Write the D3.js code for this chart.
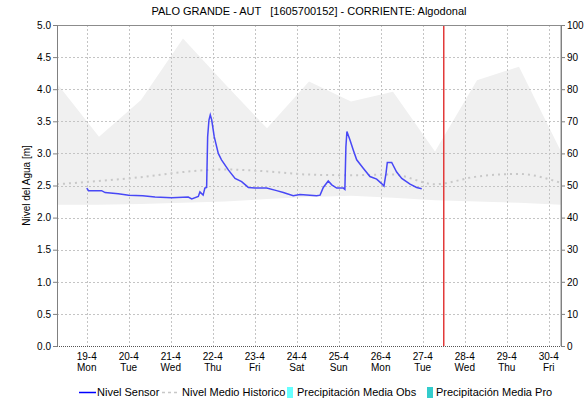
<!DOCTYPE html>
<html>
<head>
<meta charset="utf-8">
<script src="https://cdn.jsdelivr.net/npm/d3@7"></script>
<style>
  body { margin: 0; background: #fff; }
  text { font-family: "Liberation Sans", Arial, sans-serif; fill: #000; }
</style>
</head>
<body>
<div id="chart"></div>
<script>
// sensor readings (time, level in m)
var sensorTime = ["2021-04-19 00:00","2021-04-19 01:00","2021-04-19 08:30","2021-04-19 10:30","2021-04-19 18:00",
  "2021-04-20 00:00","2021-04-20 08:00","2021-04-20 15:00","2021-04-21 00:30","2021-04-21 10:00","2021-04-21 12:00",
  "2021-04-21 15:45","2021-04-21 16:40","2021-04-21 18:30","2021-04-21 19:30","2021-04-21 20:30","2021-04-21 21:05",
  "2021-04-21 21:50","2021-04-21 22:35","2021-04-21 23:25","2021-04-22 00:50","2021-04-22 03:10","2021-04-22 05:00",
  "2021-04-22 09:00","2021-04-22 12:45","2021-04-22 16:30","2021-04-22 20:20","2021-04-23 00:10","2021-04-23 06:50",
  "2021-04-23 12:30","2021-04-23 16:20","2021-04-23 22:00","2021-04-24 01:50","2021-04-24 11:20","2021-04-24 13:20",
  "2021-04-24 15:10","2021-04-24 18:00","2021-04-24 20:00","2021-04-24 22:50","2021-04-25 02:40","2021-04-25 03:30",
  "2021-04-25 04:05","2021-04-25 04:40","2021-04-25 06:25","2021-04-25 08:20","2021-04-25 10:15","2021-04-25 14:00",
  "2021-04-25 17:50","2021-04-25 21:40","2021-04-26 00:30","2021-04-26 01:50","2021-04-26 03:00","2021-04-26 03:45",
  "2021-04-26 06:15","2021-04-26 09:05","2021-04-26 12:00","2021-04-26 16:45","2021-04-26 20:30","2021-04-26 23:25"];
var sensorLevel = [2.46,2.42,2.42,2.39,2.37,
  2.35,2.34,2.32,2.31,2.32,2.29,
  2.33,2.40,2.35,2.46,2.47,3.26,
  3.52,3.60,3.52,3.26,3.00,2.90,
  2.74,2.61,2.56,2.47,2.46,2.46,
  2.42,2.39,2.34,2.36,2.34,2.35,
  2.47,2.57,2.51,2.46,2.46,2.44,
  3.10,3.34,3.21,3.05,2.90,2.77,
  2.64,2.60,2.53,2.49,2.69,2.86,
  2.86,2.71,2.61,2.52,2.47,2.45];

// historical daily values at 07:00
var histTime = ["2021-04-18 07:00","2021-04-19 07:00","2021-04-20 07:00","2021-04-21 07:00","2021-04-22 07:00",
  "2021-04-23 07:00","2021-04-24 07:00","2021-04-25 07:00","2021-04-26 07:00","2021-04-27 07:00",
  "2021-04-28 07:00","2021-04-29 07:00","2021-04-30 07:00"];
var histMax  = [4.09,3.26,3.83,4.79,4.08,3.39,4.12,3.81,3.96,3.03,4.14,4.35,3.03];
var histMin  = [2.20,2.20,2.21,2.23,2.25,2.29,2.32,2.34,2.31,2.27,2.25,2.23,2.20];
var histMean = [2.52,2.57,2.63,2.71,2.75,2.72,2.67,2.66,2.67,2.52,2.64,2.68,2.54];

// precipitation (mm) - none recorded in the period
var precipObs = [];
var precipPro = [];

var nowTime = "2021-04-27 11:30";
var dayNames = ["Sun","Mon","Tue","Wed","Thu","Fri","Sat"];

var W = 584, H = 401;
var margin = {top: 25, right: 23, bottom: 55, left: 57},
    width = W - margin.left - margin.right,
    height = H - margin.top - margin.bottom;

var parse = d3.timeParse("%Y-%m-%d %H:%M");

var svg = d3.select("#chart").append("svg")
    .attr("width", W).attr("height", H);

var g = svg.append("g")
    .attr("transform", "translate(" + margin.left + "," + margin.top + ")");

var x = d3.scaleTime()
  .domain([parse("2021-04-18 07:00"), parse("2021-04-30 07:00")])
  .range([0, width]);
var y = d3.scaleLinear().domain([0, 5]).range([height, 0]);
var y2 = d3.scaleLinear().domain([0, 100]).range([height, 0]);

var hist = histTime.map(function(t, i) {
  return {t: parse(t), max: histMax[i], min: histMin[i], mean: histMean[i]};
});
var sensor = sensorTime.map(function(t, i) { return {t: parse(t), v: sensorLevel[i]}; });

// band of historical range
g.append("path")
  .datum(hist)
  .attr("fill", "#f0f0f0")
  .attr("d", d3.area()
    .x(function(d) { return x(d.t); })
    .y0(function(d) { return y(d.min); })
    .y1(function(d) { return y(d.max); }));

// grid
var dayTicks = d3.timeDay.range(parse("2021-04-19 00:00"), parse("2021-04-30 12:00"));
g.append("g").selectAll("line").data(dayTicks).enter().append("line")
  .attr("x1", function(d) { return Math.round(x(d)) + 0.5; })
  .attr("x2", function(d) { return Math.round(x(d)) + 0.5; })
  .attr("y1", 0).attr("y2", height)
  .attr("stroke", "#c4c4c4").attr("stroke-dasharray", "2,2");
g.append("g").selectAll("line").data(d3.range(0.5, 5, 0.5)).enter().append("line")
  .attr("x1", 0).attr("x2", width)
  .attr("y1", function(d) { return Math.round(y(d)) + 0.5; })
  .attr("y2", function(d) { return Math.round(y(d)) + 0.5; })
  .attr("stroke", "#c4c4c4").attr("stroke-dasharray", "2,2");

// precipitation bars (right axis)
g.selectAll(".pobs").data(precipObs).enter().append("rect")
  .attr("fill", "#66ffff");
g.selectAll(".ppro").data(precipPro).enter().append("rect")
  .attr("fill", "#33cccc");

// historical mean
g.append("path")
  .datum(hist)
  .attr("fill", "none")
  .attr("stroke", "#c8c8c8")
  .attr("stroke-width", 2)
  .attr("stroke-dasharray", "2,4")
  .attr("d", d3.line().curve(d3.curveMonotoneX)
    .x(function(d) { return x(d.t); })
    .y(function(d) { return y(d.mean); }));

// sensor line
g.append("path")
  .datum(sensor)
  .attr("fill", "none")
  .attr("stroke", "#4848f6")
  .attr("stroke-width", 1.5)
  .attr("d", d3.line()
    .x(function(d) { return x(d.t); })
    .y(function(d) { return y(d.v); }));

// now line
var xNow = Math.round(x(parse(nowTime)));
g.append("rect")
  .attr("x", xNow).attr("y", 0)
  .attr("width", 1.5).attr("height", height)
  .style("fill", "#e23a3a");

// frame
g.append("line").attr("x1", 0).attr("x2", width).attr("y1", 0.5).attr("y2", 0.5)
  .attr("stroke", "#8c8c8c");
g.append("line").attr("x1", width).attr("x2", width).attr("y1", 0).attr("y2", height)
  .attr("stroke", "#8c8c8c");
g.append("line").attr("x1", 0).attr("x2", width).attr("y1", height + 0.5).attr("y2", height + 0.5)
  .attr("stroke", "#555").attr("stroke-dasharray", "1,1");

// left axis
var yAxis = g.append("g")
  .call(d3.axisLeft(y).tickValues(d3.range(0, 5.01, 0.5)).tickFormat(d3.format(".1f")).tickSize(4).tickPadding(2));
yAxis.select(".domain").attr("stroke", "#808080");
yAxis.selectAll("line").attr("stroke", "#808080");
yAxis.selectAll("text").attr("font-size", "10px").attr("fill", "#222");

// right axis
var y2Axis = g.append("g")
  .attr("transform", "translate(" + width + ",0)")
  .call(d3.axisRight(y2).tickValues(d3.range(0, 101, 10)).tickSize(4).tickPadding(2));
y2Axis.select(".domain").attr("stroke", "#808080");
y2Axis.selectAll("line").attr("stroke", "#808080");
y2Axis.selectAll("text").attr("font-size", "10px").attr("fill", "#222");

// bottom axis labels
var xl = g.append("g").selectAll("text").data(dayTicks).enter().append("text")
  .attr("text-anchor", "middle")
  .attr("font-size", "10px")
  .attr("fill", "#222")
  .attr("transform", function(d) { return "translate(" + x(d) + "," + (height + 14) + ")"; });
xl.append("tspan").attr("x", 0).attr("y", 0).text(function(d) { return d.getDate() + "-" + (d.getMonth() + 1); });
xl.append("tspan").attr("x", 0).attr("y", 11).text(function(d) { return dayNames[d.getDay()]; });

// title
svg.append("text")
  .attr("x", 309).attr("y", 15)
  .attr("text-anchor", "middle")
  .attr("font-size", "11px")
  .attr("fill", "#222")
  .attr("xml:space", "preserve")
  .text("PALO GRANDE - AUT   [1605700152] - CORRIENTE: Algodonal");

// y label
svg.append("text")
  .attr("transform", "translate(30," + (margin.top + height / 2) + ") rotate(-90)")
  .attr("text-anchor", "middle")
  .attr("font-size", "10px")
  .attr("fill", "#222")
  .text("Nivel del Agua [m]");

// legend
var leg = svg.append("g").attr("transform", "translate(0,392)");
leg.append("line").attr("x1", 79).attr("x2", 96).attr("y1", 0.5).attr("y2", 0.5)
  .attr("stroke", "#0000ff").attr("stroke-width", 1.5);
leg.append("text").attr("x", 97).attr("y", 4).attr("font-size", "11px").text("Nivel Sensor");
leg.append("line").attr("x1", 162).attr("x2", 179).attr("y1", 0.5).attr("y2", 0.5)
  .attr("stroke", "#c8c8c8").attr("stroke-width", 1.5).attr("stroke-dasharray", "3,3");
leg.append("text").attr("x", 182).attr("y", 4).attr("font-size", "11px").text("Nivel Medio Historico");
leg.append("rect").attr("x", 287).attr("y", -5).attr("width", 6).attr("height", 11).attr("fill", "#66ffff");
leg.append("text").attr("x", 297).attr("y", 4).attr("font-size", "11px").text("Precipitación Media Obs");
leg.append("rect").attr("x", 427).attr("y", -5).attr("width", 6).attr("height", 11).attr("fill", "#33cccc");
leg.append("text").attr("x", 436).attr("y", 4).attr("font-size", "11px").text("Precipitación Media Pro");
</script>
</body>
</html>
